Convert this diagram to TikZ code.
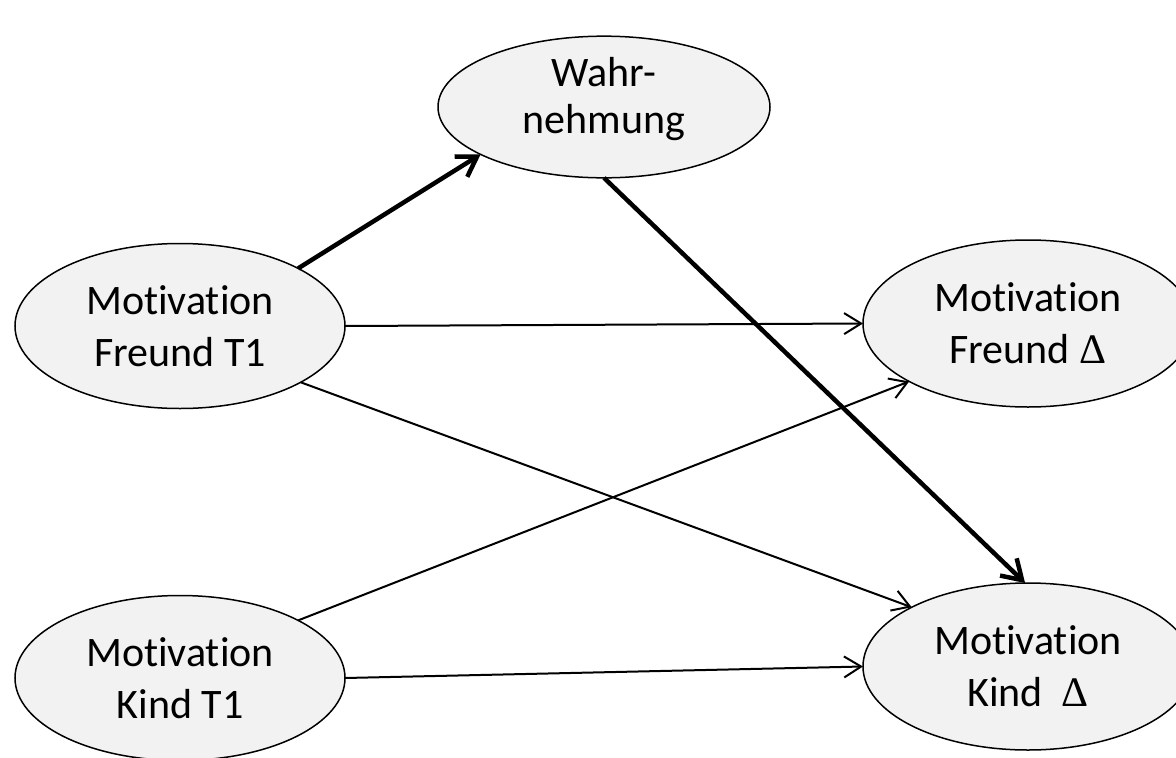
\documentclass[tikz,border=0pt]{standalone}
\usepackage{fontspec}
\setmainfont{Carlito}[Ligatures=NoCommon]
\newfontfamily\deltafont{Liberation Serif}
\usetikzlibrary{shapes.geometric,arrows.meta}
\definecolor{ellfill}{RGB}{242,242,242}
\newcommand{\mydelta}{{\deltafont Δ}}
\begin{document}
\begin{tikzpicture}[x=1pt,y=-1pt,
  lv/.style={ellipse, draw, line width=1.5pt, fill=ellfill, minimum width=330pt, minimum height=165pt, inner sep=0pt, outer sep=0pt, align=center, font=\fontsize{42}{52}\selectfont},
  paththin/.style={-{Straight Barb[length=17pt,width=21pt]}, line width=2pt},
  paththick/.style={-{Straight Barb[length=19pt,width=24pt]}, line width=4.5pt}]
\useasboundingbox (0,0) rectangle (1176,758);
\node[lv, minimum width=332pt, minimum height=139pt, text depth=24pt, font=\fontsize{42}{47}\selectfont] (w) at (604,107) {Wahr-\\nehmung};
\node[lv] (f1) at (180,326) {Motivation\\Freund T1};
\node[lv] (k1) at (180,678) {Motivation\\Kind T1};
\node[lv, minimum height=167pt] (fd) at (1028,323.5) {Motivation\\Freund \mydelta};
\node[lv, minimum height=167pt] (kd) at (1028,666.5) {Motivation\\Kind\ \ \mydelta};
\draw[paththick] (f1.26) -- (w.-159);
\draw[paththick] (w.-90) -- (kd.92);
\draw[paththin] (f1.0) -- (fd.180);
\draw[paththin] (f1.-25) -- (kd.153);
\draw[paththin] (k1.26) -- (fd.-154);
\draw[paththin] (k1.0) -- (kd.180);
\end{tikzpicture}
\end{document}
